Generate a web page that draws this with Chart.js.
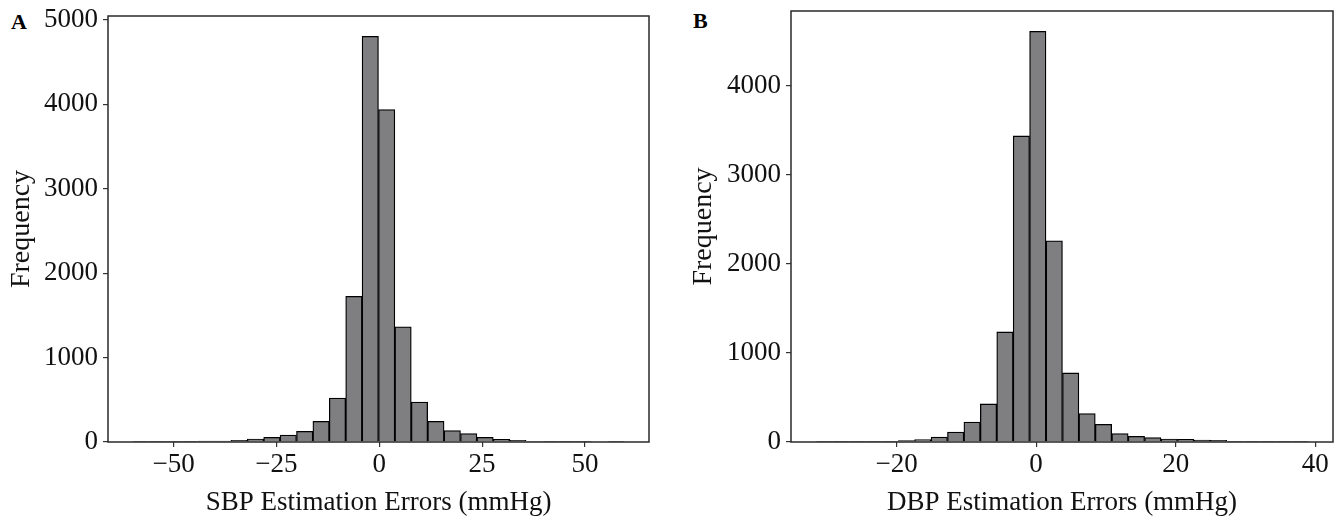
<!DOCTYPE html>
<html>
<head>
<meta charset="utf-8">
<script src="https://cdn.jsdelivr.net/npm/chart.js@4.4.1/dist/chart.umd.min.js"></script>
<style>
  body { margin: 0; background: #fff; width: 1341px; height: 519px; position: relative; overflow: hidden; }
  canvas { position: absolute; top: 0; }
  #chartA { left: 0; }
  #chartB { left: 670px; }
  .tag { position: absolute; font: bold 22px "Liberation Serif", serif; line-height: 1; }
</style>
</head>
<body>
<div class="tag" style="left:11px;top:11px">A</div>
<div class="tag" style="left:693px;top:10px">B</div>
<canvas id="chartA" width="670" height="519"></canvas>
<canvas id="chartB" width="671" height="519"></canvas>
<script>
// bin edges (30 bins each)
const edgesA = [-60.0, -56.01, -52.03, -48.04, -44.05, -40.07, -36.08, -32.09, -28.10, -24.12,
  -20.13, -16.14, -12.16, -8.17, -4.18, -0.20, 3.79, 7.78, 11.77, 15.75,
  19.74, 23.73, 27.71, 31.70, 35.69, 39.68, 43.66, 47.65, 51.64, 55.62, 59.61];
const countsA = [4, 4, 4, 5, 10, 11, 20, 36, 56, 83,
  127, 245, 521, 1726, 4805, 3938, 1365, 474, 245, 135,
  99, 56, 32, 20, 6, 5, 5, 4, 0, 5];

const edgesB = [-31.55, -29.20, -26.84, -24.49, -22.13, -19.78, -17.42, -15.07, -12.71, -10.36,
  -8.00, -5.65, -3.29, -0.94, 1.42, 3.78, 6.13, 8.48, 10.84, 13.20,
  15.55, 17.91, 20.26, 22.62, 24.97, 27.32, 29.68, 32.04, 34.39, 36.75, 39.10];
const countsB = [8, 2, 5, 5, 8, 15, 27, 56, 112, 225,
  428, 1237, 3439, 4614, 2261, 776, 319, 198, 94, 64,
  49, 34, 30, 22, 18, 8, 5, 5, 5, 1];

const xTicksA = [-50, -25, 0, 25, 50];
const yTicksA = [0, 1000, 2000, 3000, 4000, 5000];
const xTicksB = [-20, 0, 20, 40];
const yTicksB = [0, 1000, 2000, 3000, 4000];

const FONT = "'Liberation Serif', 'Times New Roman', serif";

const frame = {
  id: "frame",
  afterDatasetsDraw(chart) {
    const { ctx, chartArea: a } = chart;
    ctx.save();
    ctx.strokeStyle = "#2a2a2a";
    ctx.lineWidth = 1.5;
    ctx.strokeRect(a.left, a.top, a.right - a.left, a.bottom - a.top);
    ctx.restore();
  },
};

function fmt(v) {
  return v < 0 ? "\u2212" + Math.abs(v) : String(v);
}

function histogram(id, edges, counts, opt) {
  const points = counts.map((c, i) => ({ x: (edges[i] + edges[i + 1]) / 2, y: c }));
  return new Chart(document.getElementById(id), {
    type: "bar",
    data: {
      datasets: [
        {
          data: points,
          backgroundColor: "#7f7f82",
          borderColor: "#000",
          borderWidth: 1.3,
          barPercentage: 1,
          categoryPercentage: 1,
          grouped: false,
        },
      ],
    },
    plugins: [frame],
    options: {
      responsive: false,
      animation: false,
      layout: { padding: { top: opt.top, right: opt.right, left: 0, bottom: 0 } },
      plugins: { legend: { display: false }, tooltip: { enabled: false } },
      scales: {
        x: {
          type: "linear",
          offset: false,
          min: opt.xMin,
          max: opt.xMax,
          afterBuildTicks: (axis) => { axis.ticks = opt.xTicks.map((v) => ({ value: v })); },
          afterFit: (axis) => { axis.height = 77; axis.paddingLeft = 0; axis.paddingRight = 0; },
          ticks: { color: "#111", font: { family: FONT, size: 27 }, padding: 2, callback: fmt, maxRotation: 0 },
          grid: { display: true, offset: false, drawOnChartArea: false, tickLength: 5, color: "#333", lineWidth: 1.2 },
          border: { display: false },
          title: { display: true, text: opt.xTitle, color: "#111", font: { family: FONT, size: 27 }, padding: { top: 5, bottom: 0 } },
        },
        y: {
          min: 0,
          max: opt.yMax,
          afterBuildTicks: (axis) => { axis.ticks = opt.yTicks.map((v) => ({ value: v })); },
          afterFit: (axis) => { axis.width = opt.yWidth; axis.paddingTop = 0; axis.paddingBottom = 0; },
          ticks: { color: "#111", font: { family: FONT, size: 27 }, padding: 5, callback: fmt },
          grid: { display: true, drawOnChartArea: false, tickLength: 5, color: "#333", lineWidth: 1.2 },
          border: { display: false },
          title: { display: true, text: "Frequency", color: "#111", font: { family: FONT, size: 28 }, padding: { top: opt.yTitlePad, bottom: 0 } },
        },
      },
    },
  });
}

histogram("chartA", edgesA, countsA, {
  top: 16, right: 21, yWidth: 108, yTitlePad: 5,
  xMin: -65.95, xMax: 65.57, yMax: 5045,
  xTicks: xTicksA, yTicks: yTicksA,
  xTitle: "SBP Estimation Errors (mmHg)",
});

histogram("chartB", edgesB, countsB, {
  top: 11, right: 8, yWidth: 121, yTitlePad: 17,
  xMin: -35.14, xMax: 42.56, yMax: 4843,
  xTicks: xTicksB, yTicks: yTicksB,
  xTitle: "DBP Estimation Errors (mmHg)",
});
</script>
</body>
</html>
